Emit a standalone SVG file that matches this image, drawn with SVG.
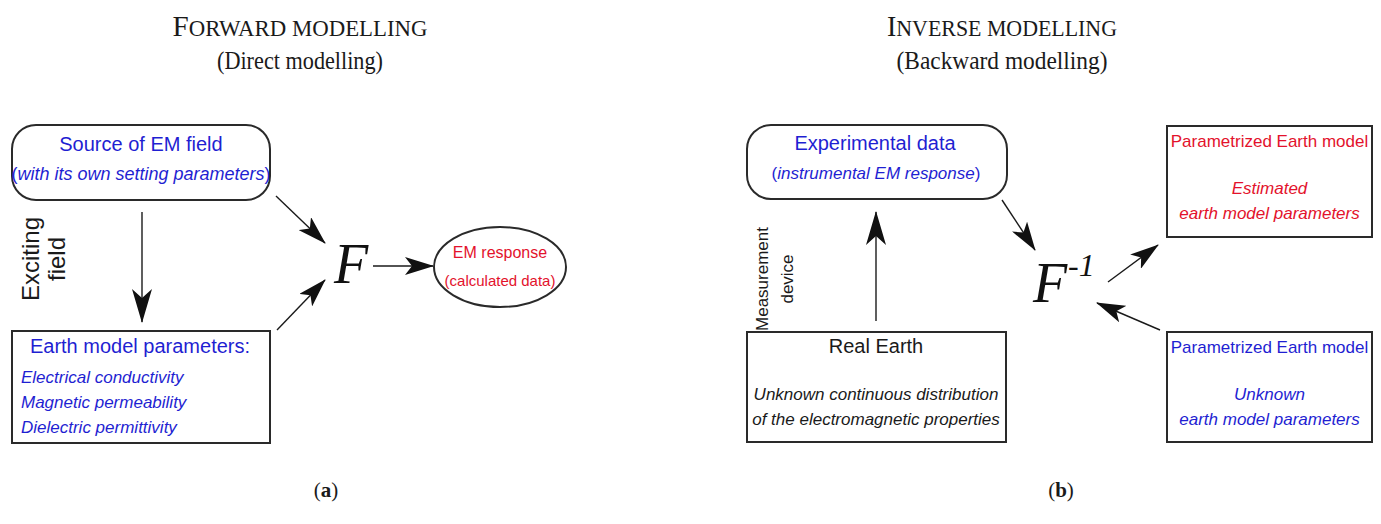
<svg xmlns="http://www.w3.org/2000/svg" width="1381" height="524" viewBox="0 0 1381 524">
<style>
.title{font-family:"Liberation Serif","Times New Roman",serif;fill:#1a1a1a}
.sans{font-family:"Liberation Sans",Arial,sans-serif}
.blue{fill:#1f1fd2}
.red{fill:#e3122c}
.dark{fill:#1a1a1a}
.box{fill:#fff;stroke:#2a2a2a;stroke-width:2}
.conn{stroke:#1a1a1a;stroke-width:1.4;fill:none}
.big{marker-end:url(#ahBig)}
.small{marker-end:url(#ahSmall)}
.fn{font-family:"Liberation Serif","Times New Roman",serif;font-style:italic;fill:#111}
.it{font-style:italic}
</style>
<defs>
<marker id="ahBig" viewBox="0 0 34 20" refX="33" refY="10" markerWidth="34" markerHeight="20" markerUnits="userSpaceOnUse" orient="auto">
<path d="M0,0 L34,10 L0,20 L9,10 Z" fill="#111"/>
</marker>
<marker id="ahSmall" viewBox="0 0 29 18" refX="28" refY="9" markerWidth="29" markerHeight="18" markerUnits="userSpaceOnUse" orient="auto">
<path d="M0,0 L29,9 L0,18 L7,9 Z" fill="#111"/>
</marker>
</defs>
<rect width="1381" height="524" fill="#fff"/>

<g id="titles">
<text class="title" x="300" y="36" text-anchor="middle" textLength="255" lengthAdjust="spacingAndGlyphs"><tspan font-size="30">F</tspan><tspan font-size="23.5">ORWARD MODELLING</tspan></text>
<text class="title" x="300" y="69" text-anchor="middle" font-size="26" textLength="166" lengthAdjust="spacingAndGlyphs">(Direct modelling)</text>
<text class="title" x="1002" y="36" text-anchor="middle" textLength="230" lengthAdjust="spacingAndGlyphs"><tspan font-size="30">I</tspan><tspan font-size="23.5">NVERSE MODELLING</tspan></text>
<text class="title" x="1002" y="69" text-anchor="middle" font-size="26" textLength="211" lengthAdjust="spacingAndGlyphs">(Backward modelling)</text>
<text class="title" x="326" y="497" text-anchor="middle" font-size="21">(<tspan font-weight="bold">a</tspan>)</text>
<text class="title" x="1061" y="497" text-anchor="middle" font-size="21">(<tspan font-weight="bold">b</tspan>)</text>
</g>

<g id="connectors">
<line class="conn big" x1="142" y1="212" x2="142" y2="322"/>
<line class="conn small" x1="276" y1="196" x2="325" y2="243"/>
<line class="conn small" x1="277" y1="330" x2="325" y2="280"/>
<line class="conn small" x1="373" y1="266" x2="433" y2="266"/>
<line class="conn big" x1="876" y1="321" x2="876" y2="212"/>
<line class="conn small" x1="1002" y1="200" x2="1035" y2="250"/>
<line class="conn small" x1="1108" y1="282" x2="1158" y2="245"/>
<line class="conn small" x1="1160" y1="330" x2="1097" y2="303"/>
</g>

<g id="source">
<rect class="box" x="12" y="125" width="258" height="75" rx="24" ry="24"/>
<text class="sans blue" x="141" y="151" text-anchor="middle" font-size="20">Source of EM field</text>
<text class="sans blue" x="141" y="180" text-anchor="middle" font-size="18">(<tspan class="it">with its own setting parameters</tspan>)</text>
</g>

<g id="exciting-label">
<text class="sans dark" transform="translate(39,259) rotate(-90)" text-anchor="middle" font-size="24">Exciting</text>
<text class="sans dark" transform="translate(65,259) rotate(-90)" text-anchor="middle" font-size="24">field</text>
</g>

<g id="earth-model">
<rect class="box" x="12" y="331" width="258" height="112"/>
<text class="sans blue" x="140" y="353" text-anchor="middle" font-size="20">Earth model parameters:</text>
<text class="sans blue it" x="21" y="383" font-size="17">Electrical conductivity</text>
<text class="sans blue it" x="21" y="408" font-size="17">Magnetic permeability</text>
<text class="sans blue it" x="21" y="433" font-size="17">Dielectric permittivity</text>
</g>

<g id="F">
<text class="fn" x="334" y="283" font-size="56">F</text>
</g>

<g id="em-response">
<ellipse cx="500" cy="267" rx="66" ry="40" fill="#fff" stroke="#2a2a2a" stroke-width="2"/>
<text class="sans red" x="500" y="258" text-anchor="middle" font-size="16">EM response</text>
<text class="sans red" x="500" y="286" text-anchor="middle" font-size="15">(calculated data)</text>
</g>

<g id="experimental">
<rect class="box" x="747" y="125" width="260" height="74" rx="24" ry="24"/>
<text class="sans blue" x="875" y="150" text-anchor="middle" font-size="20">Experimental data</text>
<text class="sans blue" x="876" y="179" text-anchor="middle" font-size="17">(<tspan class="it">instrumental EM response</tspan>)</text>
</g>

<g id="measurement-label">
<text class="sans dark" transform="translate(768,279) rotate(-90)" text-anchor="middle" font-size="17">Measurement</text>
<text class="sans dark" transform="translate(793,279) rotate(-90)" text-anchor="middle" font-size="17">device</text>
</g>

<g id="real-earth">
<rect class="box" x="747" y="332" width="259" height="110"/>
<text class="sans dark" x="876" y="353" text-anchor="middle" font-size="20">Real Earth</text>
<text class="sans dark it" x="876" y="400" text-anchor="middle" font-size="17">Unknown continuous distribution</text>
<text class="sans dark it" x="876" y="425" text-anchor="middle" font-size="17">of the electromagnetic properties</text>
</g>

<g id="F-inverse">
<text class="fn" x="1033" y="302" font-size="56">F<tspan x="1068" y="276" font-size="32">-1</tspan></text>
</g>

<g id="estimated-model">
<rect class="box" x="1167" y="126" width="205" height="111"/>
<text class="sans red" x="1269.5" y="147" text-anchor="middle" font-size="17">Parametrized Earth model</text>
<text class="sans red it" x="1269.5" y="194" text-anchor="middle" font-size="17">Estimated</text>
<text class="sans red it" x="1269.5" y="219" text-anchor="middle" font-size="17">earth model parameters</text>
</g>

<g id="unknown-model">
<rect class="box" x="1167" y="332" width="205" height="110"/>
<text class="sans blue" x="1269.5" y="353" text-anchor="middle" font-size="17">Parametrized Earth model</text>
<text class="sans blue it" x="1269.5" y="400" text-anchor="middle" font-size="17">Unknown</text>
<text class="sans blue it" x="1269.5" y="425" text-anchor="middle" font-size="17">earth model parameters</text>
</g>
</svg>
